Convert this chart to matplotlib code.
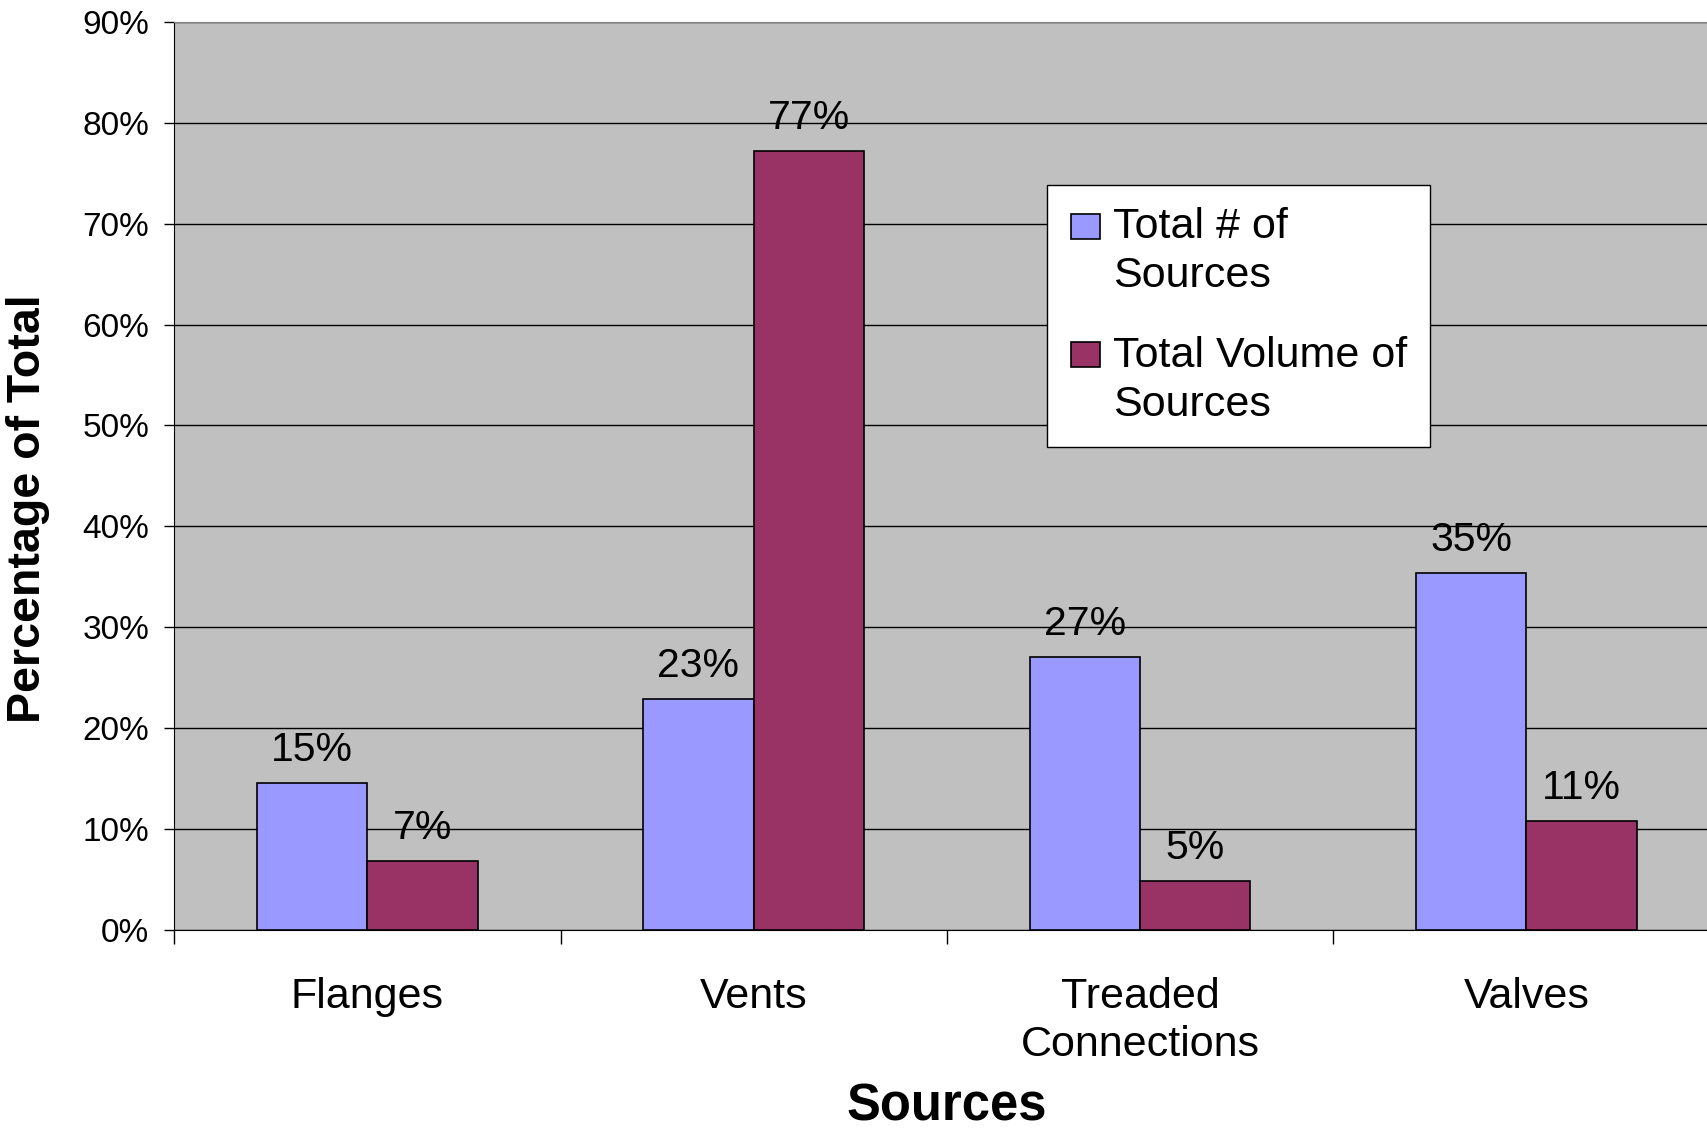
import numpy as np
import matplotlib.pyplot as plt
from matplotlib.patches import Rectangle
from matplotlib.legend_handler import HandlerPatch
from matplotlib.ticker import PercentFormatter

plt.rcParams['font.family'] = ['Liberation Sans', 'DejaVu Sans']

categories = ['Flanges', 'Vents', 'Treaded\nConnections', 'Valves']
count_share = [0.146, 0.229, 0.271, 0.354]
volume_share = [0.068, 0.772, 0.049, 0.108]
series_names = ['Total # of\nSources', 'Total Volume of\nSources']
series_colors = ['#9999FF', '#993366']
y_ticks = np.arange(0, 0.91, 0.1)

LEG_FS = 31
SWATCH_W = 21  # points
SWATCH_H = 18


def top_aligned_box(legend, orig_handle, xdescent, ydescent, width, height, fontsize):
    # small square swatch, pushed to the right of the handle slot and
    # level with the first line of a two-line label
    return Rectangle((-xdescent + width - SWATCH_W, -ydescent + 0.62 * fontsize),
                     SWATCH_W, SWATCH_H)


fig = plt.figure(figsize=(17.08, 11.29), dpi=100)
ax = fig.add_axes([0.1020, 0.1763, 0.9047, 0.8043])
ax.set_facecolor('#C0C0C0')

x = np.arange(len(categories)) + 0.5
w = 1 / 3.5
b1 = ax.bar(x - w / 2, count_share, w, color=series_colors[0],
            edgecolor='black', linewidth=1.2, zorder=3)
b2 = ax.bar(x + w / 2, volume_share, w, color=series_colors[1],
            edgecolor='black', linewidth=1.2, zorder=3)

ax.bar_label(b1, fmt='{:.0%}', padding=10, fontsize=29.5)
ax.bar_label(b2, fmt='{:.0%}', padding=10, fontsize=29.5)

ax.set_xlim(0, len(categories))
ax.set_ylim(0, 0.9)

# gridlines and axis frame
ax.set_axisbelow(True)
ax.yaxis.grid(True, color='black', linewidth=1.0)
ax.spines['top'].set_color('#808080')
ax.spines['right'].set_visible(False)
ax.spines['left'].set_color('black')
ax.spines['bottom'].set_color('black')

ax.set_yticks(y_ticks)
ax.yaxis.set_major_formatter(PercentFormatter(1.0, decimals=0))
ax.tick_params(axis='y', direction='out', length=7, width=1, pad=11, labelsize=24)

# ticks between groups, labels at group centres
ax.set_xticks(np.arange(len(categories) + 1))
ax.set_xticklabels([])
ax.tick_params(axis='x', which='major', direction='out', length=10, width=1)
ax.set_xticks(x, categories, minor=True)
ax.tick_params(axis='x', which='minor', length=0, pad=34, labelsize=31)
for lbl in ax.get_xticklabels(minor=True):
    lbl.set_linespacing(1.25)
    lbl.set_verticalalignment('top')

ax.set_ylabel('Percentage of Total', fontsize=33.5, fontweight='bold', va='center')
ax.yaxis.set_label_coords(-0.0945, 0.4637)
ax.set_xlabel('Sources', fontsize=36.5, fontweight='bold', va='center')
ax.xaxis.set_label_coords(0.5, -0.195)

leg = ax.legend([b1[0], b2[0]], series_names,
                handler_map={Rectangle: HandlerPatch(patch_func=top_aligned_box)},
                loc='upper left', bbox_to_anchor=(1047 / 1708, 1 - 185 / 1129),
                bbox_transform=fig.transFigure, borderaxespad=0,
                fontsize=LEG_FS, frameon=True, fancybox=False, shadow=False,
                framealpha=1, facecolor='white', edgecolor='black',
                borderpad=0.52, handlelength=0.72, handleheight=0.58,
                handletextpad=0.29, labelspacing=0.93)
leg.get_frame().set_linewidth(1.0)
for t in leg.get_texts():
    t.set_linespacing(1.28)

fig.savefig('out.png', dpi=100)
